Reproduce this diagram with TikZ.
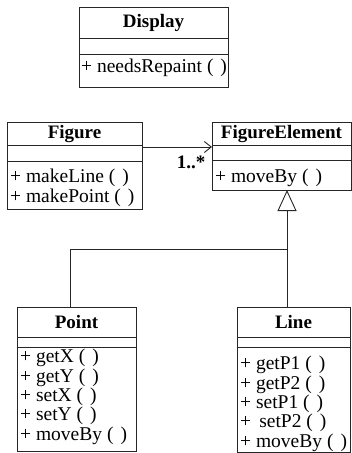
\documentclass[tikz,border=0pt]{standalone}
\usepackage{fontspec}
\setmainfont{Liberation Serif}
\usetikzlibrary{arrows.meta}
\newcommand{\pp}{(\hspace{7pt})}
\tikzset{
  cls/.style={draw=black!85, line width=0.8pt, fill=white, inner sep=0, anchor=north west},
  sep/.style={draw=black!85, line width=0.8pt},
  ttl/.style={font=\bfseries\fontsize{19}{21}\selectfont, inner sep=0},
  mth/.style={font=\fontsize{19.5}{19.4}\selectfont, align=left, anchor=north west, inner sep=0},
  conn/.style={draw=black!85, line width=0.9pt},
}
\begin{document}
\begin{tikzpicture}[x=1pt,y=-1pt]
\useasboundingbox (0,0) rectangle (352,453);
% Display
\node[cls, minimum width=149pt, minimum height=80pt] (display) at (79,7) {};
\draw[sep] (79,38) -- (228,38);
\draw[sep] (79,54) -- (228,54);
\node[ttl] (displayT) at (153.5,23) {Display};
\node[mth] (displayM) at (81,59) {+ needsRepaint \pp};
% Figure
\node[cls, minimum width=135pt, minimum height=87pt] (figure) at (7,122) {};
\draw[sep] (7,145) -- (142,145);
\draw[sep] (7,161) -- (142,161);
\node[ttl] (figureT) at (74.5,134) {Figure};
\node[mth] (figureM) at (10,169) {+ makeLine \pp\\+ makePoint \pp};
% FigureElement
\node[cls, minimum width=139pt, minimum height=68pt] (fe) at (212,122) {};
\draw[sep] (212,145) -- (351,145);
\draw[sep] (212,160) -- (351,160);
\node[ttl] (feT) at (281.5,134) {FigureElement};
\node[mth] (feM) at (215,169) {+ moveBy \pp};
% Point
\node[cls, minimum width=119pt, minimum height=144pt] (point) at (17,307) {};
\draw[sep] (17,337) -- (136,337);
\draw[sep] (17,347) -- (136,347);
\node[ttl] (pointT) at (76.5,322) {Point};
\node[mth] (pointM) at (20,349) {+ getX \pp\\+ getY \pp\\+ setX \pp\\+ setY \pp\\+ moveBy \pp};
% Line
\node[cls, minimum width=113pt, minimum height=145pt] (line) at (237,307) {};
\draw[sep] (237,337) -- (350,337);
\draw[sep] (237,347) -- (350,347);
\node[ttl] (lineT) at (293.5,322) {Line};
\node[mth] (lineM) at (240,356) {+ getP1 \pp\\+ getP2 \pp\\+ setP1 \pp\\+\, setP2 \pp\\+ moveBy \pp};
% association
\coordinate (a1) at (142,147);
\coordinate (a2) at (212,147);
\draw[conn, -{Straight Barb[length=7pt,width=11pt,line width=0.9pt]}] (a1) -- (a2);
\node[font=\bfseries\fontsize{19}{21}\selectfont, inner sep=0] (mult) at (191,162) {1..*};
% generalization
\coordinate (j) at (287,249);
\coordinate (pt) at (70,307);
\coordinate (ln) at (287,307);
\coordinate (fs) at (287,190);
\draw[conn] (pt) |- (j);
\draw[conn] (ln) -- (j);
\draw[conn, -{Triangle[open,length=21pt,width=19pt,line width=0.9pt]}] (j) -- (fs);
\end{tikzpicture}
\end{document}
